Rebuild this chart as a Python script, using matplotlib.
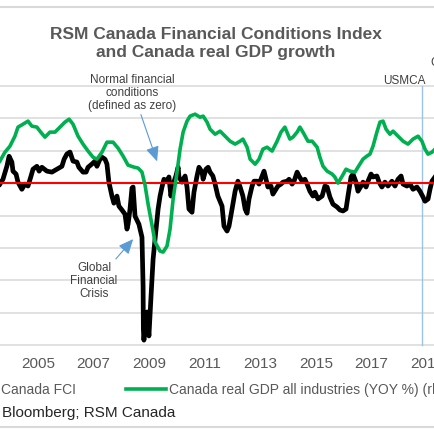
import matplotlib
matplotlib.use("Agg")
import matplotlib.pyplot as plt
from matplotlib.lines import Line2D

plt.rcParams["font.family"] = ["Liberation Sans", "DejaVu Sans"]

# ---- data (decimal years) ----
fci_years = [
    2003.63, 2003.74, 2003.88, 2003.96, 2004.06, 2004.10, 2004.21, 2004.28, 2004.42, 2004.53,
    2004.64, 2004.75, 2004.82, 2004.96, 2005.04, 2005.14, 2005.32, 2005.50, 2005.68, 2005.86,
    2005.94, 2006.04, 2006.15, 2006.26, 2006.40, 2006.47, 2006.62, 2006.73, 2006.80, 2006.94,
    2007.05, 2007.12, 2007.23, 2007.30, 2007.41, 2007.48, 2007.55, 2007.66, 2007.73, 2007.84,
    2007.91, 2008.02, 2008.13, 2008.20, 2008.24, 2008.31, 2008.38, 2008.42, 2008.49, 2008.63,
    2008.74, 2008.78, 2008.79, 2008.81, 2008.88, 2008.92, 2008.99, 2009.06, 2009.14, 2009.21,
    2009.32, 2009.39, 2009.46, 2009.53, 2009.64, 2009.71, 2009.78, 2009.86, 2009.96, 2010.04,
    2010.07, 2010.18, 2010.29, 2010.36, 2010.43, 2010.54, 2010.61, 2010.72, 2010.79, 2010.90,
    2010.94, 2011.04, 2011.12, 2011.19, 2011.29, 2011.37, 2011.47, 2011.62, 2011.69, 2011.80,
    2011.87, 2011.98, 2012.09, 2012.19, 2012.27, 2012.37, 2012.45, 2012.52, 2012.59, 2012.70,
    2012.77, 2012.88, 2012.95, 2013.06, 2013.13, 2013.20, 2013.27, 2013.38, 2013.45, 2013.56,
    2013.63, 2013.74, 2013.81, 2013.96, 2014.03, 2014.14, 2014.21, 2014.32, 2014.39, 2014.50,
    2014.60, 2014.68, 2014.78, 2014.89, 2014.96, 2015.07, 2015.22, 2015.32, 2015.40, 2015.50,
    2015.61, 2015.76, 2015.86, 2015.97, 2016.08, 2016.15, 2016.26, 2016.33, 2016.44, 2016.51,
    2016.62, 2016.69, 2016.80, 2016.87, 2016.98, 2017.05, 2017.19, 2017.27, 2017.37, 2017.48,
    2017.59, 2017.73, 2017.84, 2017.95, 2018.06, 2018.13, 2018.27, 2018.38, 2018.49, 2018.63,
    2018.74, 2018.85, 2018.92, 2019.03, 2019.10, 2019.17, 2019.28,
]
fci = [
    -0.03, 0.12, 0.52, 0.83, 0.65, 0.37, 0.28, 0.03, -0.19, -0.03,
    -0.09, 0.22, 0.43, 0.52, 0.37, 0.49, 0.37, 0.34, 0.43, 0.52,
    0.74, 0.90, 0.96, 0.68, 0.65, 0.49, 0.34, 0.34, 0.49, 0.59,
    0.68, 0.52, 0.74, 0.80, 0.74, 0.59, 0.03, -0.40, -0.62, -0.40,
    -0.71, -0.83, -0.96, -1.42, -1.27, -0.80, -0.15, -0.12, -1.02, -1.27,
    -1.67, -3.18, -4.51, -4.85, -4.10, -3.98, -4.72, -3.58, -2.35, -1.73,
    -0.80, -0.40, -0.12, 0.12, 0.06, 0.19, -0.40, -0.03, 0.22, 0.49,
    0.19, 0.03, 0.22, -0.12, -0.80, -0.90, -0.28, 0.22, 0.49, 0.34,
    0.12, 0.43, 0.49, 0.34, 0.22, -0.03, -0.40, -0.71, -1.33, -1.48,
    -1.33, -0.80, -0.25, 0.06, -0.12, -0.40, -0.80, -0.93, -0.49, -0.09,
    0.06, 0.06, -0.03, 0.22, 0.37, 0.12, -0.12, -0.09, -0.34, -0.19,
    -0.09, -0.03, 0.03, 0.06, 0.12, -0.03, 0.06, 0.34, 0.22, 0.06,
    0.12, -0.03, -0.25, -0.40, -0.28, -0.49, -0.40, -0.09, -0.12, -0.43,
    -0.65, -0.74, -0.83, -0.86, -0.80, -0.40, 0.19, 0.28, 0.03, -0.25,
    -0.09, 0.03, -0.12, 0.06, 0.28, 0.19, 0.22, 0.03, -0.12, 0.03,
    -0.09, 0.06, -0.09, 0.12, 0.22, -0.03, -0.09, -0.03, -0.19, -0.12,
    -0.25, -0.43, -0.56, -0.49, -0.19, 0.06, 0.19,
]

gdp_years = [
    2003.63, 2003.81, 2003.99, 2004.17, 2004.28, 2004.46, 2004.64, 2004.78, 2004.96, 2005.07,
    2005.25, 2005.43, 2005.61, 2005.79, 2005.97, 2006.12, 2006.26, 2006.44, 2006.62, 2006.80,
    2006.98, 2007.12, 2007.30, 2007.48, 2007.70, 2007.88, 2008.06, 2008.24, 2008.45, 2008.60,
    2008.74, 2008.85, 2008.96, 2009.10, 2009.21, 2009.39, 2009.50, 2009.64, 2009.75, 2009.86,
    2010.00, 2010.11, 2010.22, 2010.36, 2010.47, 2010.65, 2010.83, 2010.94, 2011.08, 2011.19,
    2011.37, 2011.55, 2011.73, 2011.91, 2012.09, 2012.27, 2012.37, 2012.52, 2012.63, 2012.81,
    2012.95, 2013.09, 2013.24, 2013.42, 2013.60, 2013.74, 2013.88, 2014.06, 2014.17, 2014.32,
    2014.42, 2014.53, 2014.71, 2014.86, 2015.04, 2015.14, 2015.25, 2015.40, 2015.58, 2015.68,
    2015.79, 2015.94, 2016.08, 2016.22, 2016.40, 2016.51, 2016.69, 2016.83, 2016.94, 2017.05,
    2017.19, 2017.30, 2017.41, 2017.52, 2017.66, 2017.77, 2017.95, 2018.13, 2018.31, 2018.49,
    2018.67, 2018.81, 2018.92, 2019.03, 2019.17, 2019.28,
]
gdp = [
    1.36, 1.91, 2.28, 2.90, 3.46, 3.64, 3.83, 3.52, 3.46, 3.21,
    2.84, 3.15, 3.15, 3.46, 3.77, 3.95, 3.64, 2.90, 2.41, 1.98,
    1.60, 1.48, 1.91, 2.53, 2.53, 2.16, 1.67, 1.11, 0.99, 0.93,
    0.68, -0.12, -1.30, -2.59, -3.64, -4.20, -4.26, -3.89, -2.84, -0.99,
    0.68, 2.10, 3.15, 3.83, 4.14, 4.26, 4.07, 4.14, 3.77, 3.33,
    3.02, 3.21, 2.90, 2.59, 2.41, 2.59, 2.72, 2.22, 1.48, 1.17,
    1.48, 2.10, 2.22, 1.98, 2.59, 3.15, 3.46, 2.72, 2.84, 3.15,
    3.46, 3.15, 2.59, 2.59, 2.22, 1.60, 1.05, 0.74, 0.56, 0.37,
    0.00, 0.43, 0.86, 0.74, 0.68, 0.99, 1.48, 1.67, 1.79, 2.28,
    3.15, 3.77, 3.83, 3.33, 3.02, 3.21, 2.90, 2.59, 2.41, 2.72,
    2.90, 2.59, 2.10, 1.79, 1.91, 2.10,
]

year_ticks = [2005, 2007, 2009, 2011, 2013, 2015, 2017, 2019]
fci_grid = [-5, -4, -3, -2, -1, 0, 1, 2, 3]
usmca_date = 2018.8

GREEN, RED, GRID, TXT = "#00B050", "#FF0000", "#D9D9D9", "#595959"
ARROW = "#5B9BD5"
W = H = 435


def fx(px):
    return px / W


def fy(py):
    return 1 - py / H


fig = plt.figure(figsize=(4.35, 4.35), dpi=100)
ax = fig.add_axes([0, fy(346), 1, (346 - 87) / H])
for s in ax.spines.values():
    s.set_visible(False)
for v in fci_grid:
    ax.axhline(v, color=GRID, lw=1.1, zorder=0, clip_on=False)
ax.set_yticks([])

ax.axvline(usmca_date, color="#9DC3E6", lw=1, zorder=1, clip_on=False)
ax.plot(fci_years, fci, color="black", lw=3.4, zorder=2, solid_joinstyle="round")
ax.axhline(0, color=RED, lw=1.5, zorder=3)

ax2 = ax.twinx()
ax2.plot(gdp_years, gdp, color=GREEN, lw=2.6, zorder=4, solid_joinstyle="round")
ax2.set_yticks([])
for s in ax2.spines.values():
    s.set_visible(False)

# fix limits after all plotting (twinx shares x and would autoscale it)
ax.set_xlim(2003.633, 2019.28)
ax.set_ylim(-5, 3)
ax2.set_ylim(-10, 6)
ax.set_xticks(year_ticks)
ax.set_xticklabels([str(y) for y in year_ticks])
ax.tick_params(axis="x", length=0, pad=8, labelsize=11, labelcolor=TXT)

# title
fig.text(fx(216), fy(43.5), "RSM Canada Financial Conditions Index\nand Canada real GDP growth",
         ha="center", va="center", fontsize=12.5, fontweight="bold", color=TXT, linespacing=1.2)

# annotations
fig.text(fx(132), fy(93), "Normal financial\nconditions\n(defined as zero)",
         ha="center", va="center", fontsize=8.5, color="#404040", linespacing=1.15)
ax.annotate("", xy=(fx(158), fy(165)), xytext=(fx(140), fy(113)),
            xycoords="figure fraction", textcoords="figure fraction",
            arrowprops=dict(arrowstyle="-|>,head_length=0.9,head_width=0.4",
                            color=ARROW, lw=0.8, mutation_scale=10))
fig.text(fx(94), fy(281), "Global\nFinancial\nCrisis",
         ha="center", va="center", fontsize=8.5, color="#404040", linespacing=1.15)
ax.annotate("", xy=(fx(135), fy(238)), xytext=(fx(114), fy(262)),
            xycoords="figure fraction", textcoords="figure fraction",
            arrowprops=dict(arrowstyle="-|>,head_length=0.9,head_width=0.4",
                            color=ARROW, lw=0.8, mutation_scale=10))
fig.text(fx(404), fy(81), "USMCA", ha="center", va="center", fontsize=8.5, color="#404040")
fig.text(fx(430), fy(63), "COVID-19", ha="left", va="center", fontsize=8.5, color="#404040")

# legend (the chart is cropped on the left, so only part of it shows)
fig.text(fx(1), fy(390), "Canada FCI", ha="left", va="center", fontsize=10, color=TXT)
fig.add_artist(Line2D([fx(126), fx(166)], [fy(390), fy(390)], color=GREEN, lw=2.6))
fig.text(fx(169), fy(390), "Canada real GDP all industries (YOY %) (rhs)",
         ha="left", va="center", fontsize=10, color=TXT)

# source
fig.text(fx(2.5), fy(413), "Bloomberg; RSM Canada", ha="left", va="center",
         fontsize=11, color="#262626")

# frame lines
fig.add_artist(Line2D([0, 1], [fy(8), fy(8)], color=GRID, lw=1.5))
fig.add_artist(Line2D([0, 1], [fy(428), fy(428)], color=GRID, lw=1.5))

fig.savefig("out.png", dpi=100)
